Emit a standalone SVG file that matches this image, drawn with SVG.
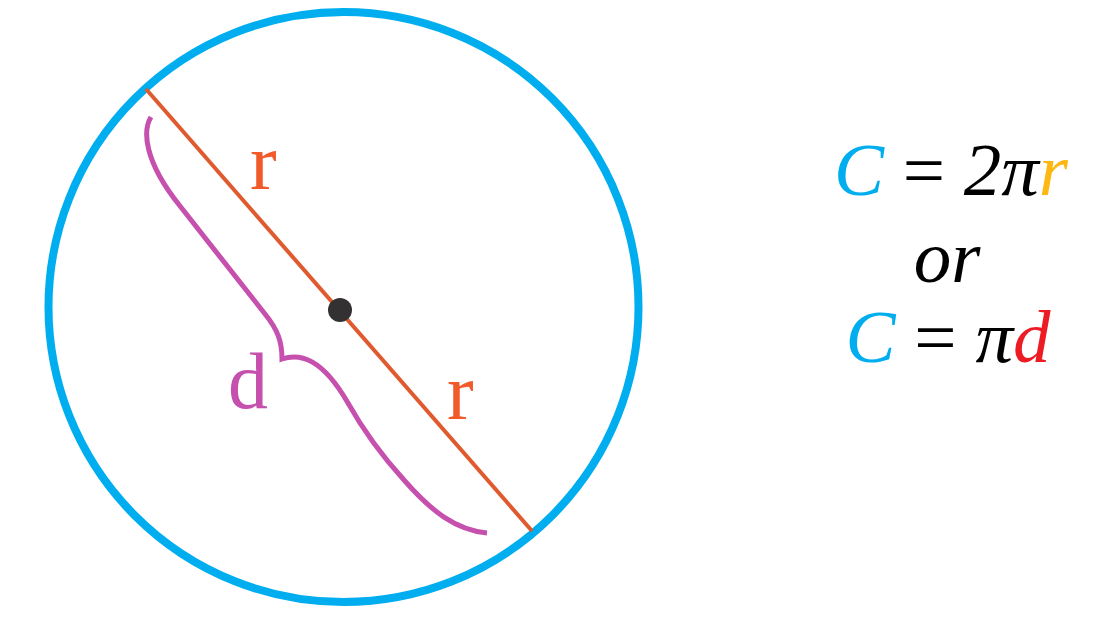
<svg xmlns="http://www.w3.org/2000/svg" width="1094" height="625" viewBox="0 0 1094 625">
<style>
.lbl{font-family:"Liberation Serif","Times New Roman",serif;font-size:80px}
.f{font-family:"Liberation Serif","Times New Roman",serif;font-size:75px;font-style:italic}
.eq{font-style:normal}
</style>
<rect width="1094" height="625" fill="#ffffff"/>
<g id="circle">
<circle cx="343.5" cy="307" r="295" fill="none" stroke="#00aeef" stroke-width="8"/>
</g>
<g id="connectors">
<line x1="146" y1="89" x2="532" y2="531" stroke="#e05a2f" stroke-width="4"/>
<path d="M151 117 C143 130 143 160 180 206 L265 314 C278 330 282 342 282 359 C300 353 322 358 348 403 C362 428 384 458 404 480 C432 512 456 530 487 533" fill="none" stroke="#c650ad" stroke-width="5"/>
</g>
<g id="center">
<circle cx="340" cy="310" r="12" fill="#333132"/>
</g>
<g id="labels">
<text class="lbl" x="250" y="189" fill="#f15a29">r</text>
<text class="lbl" x="447" y="419" fill="#f15a29">r</text>
<text class="lbl" x="228" y="408" fill="#c650ad">d</text>
</g>
<g id="formula">
<text class="f" x="951" y="195" text-anchor="middle"><tspan fill="#00aeef">C</tspan><tspan class="eq" fill="#000"> = </tspan><tspan fill="#000">2π</tspan><tspan fill="#fdb813">r</tspan></text>
<text class="f" x="947" y="282" text-anchor="middle" fill="#000">or</text>
<text class="f" x="948" y="362" text-anchor="middle"><tspan fill="#00aeef">C</tspan><tspan class="eq" fill="#000"> = </tspan><tspan fill="#000">π</tspan><tspan fill="#ed1c24">d</tspan></text>
</g>
</svg>
